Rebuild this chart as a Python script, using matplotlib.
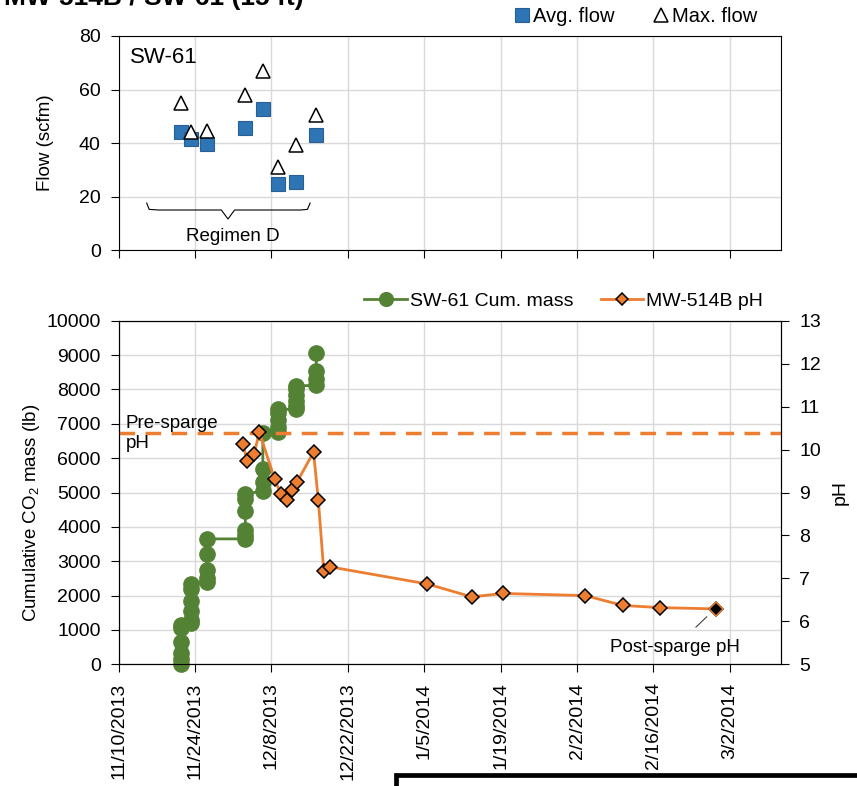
import matplotlib
matplotlib.use("Agg")
import matplotlib.pyplot as plt
import matplotlib.dates as mdates
import pandas as pd
from matplotlib.lines import Line2D
from matplotlib.ticker import FuncFormatter

plt.rcParams["font.family"] = ["Liberation Sans", "DejaVu Sans"]
plt.rcParams["mathtext.fontset"] = "custom"
plt.rcParams["mathtext.rm"] = "Liberation Sans"
plt.rcParams["mathtext.it"] = "Liberation Sans:italic"

# flow measurements (top panel)
flow_dates = pd.to_datetime([
    "2013-11-21 10:00", "2013-11-23 05:00", "2013-11-26 05:00", "2013-12-03 05:00",
    "2013-12-06 10:00", "2013-12-09 05:00", "2013-12-12 10:00", "2013-12-16 05:00",
])
avg_flow = [44, 41.5, 39.5, 45.5, 52.8, 24.8, 25.5, 43.1]
max_flow = [54.8, 44.2, 44.5, 57.9, 66.9, 30.9, 39.3, 50.5]

# cumulative CO2 mass, several readings per sparge day
mass_day = [0, 0, 0, 0, 0, 0,
            1, 1, 1, 1, 1, 1,
            2, 2, 2, 2, 2,
            3, 3, 3, 3, 3, 3,
            4, 4, 4, 4,
            5, 5, 5, 5, 5,
            6, 6, 6, 6, 6, 6,
            7, 7, 7, 7]
cum_mass = [0, 150, 320, 650, 1050, 1150,
            1200, 1300, 1550, 1850, 2200, 2350,
            2400, 2500, 2750, 3200, 3650,
            3650, 3750, 3900, 4450, 4800, 4950,
            5050, 5300, 5680, 6730,
            6750, 6900, 7100, 7300, 7420,
            7420, 7520, 7650, 7850, 8000, 8100,
            8120, 8300, 8550, 9050]

# MW-514B pH
ph_dates = pd.to_datetime([
    "2013-12-02 17:00", "2013-12-03 14:00", "2013-12-04 19:00", "2013-12-05 19:00",
    "2013-12-08 14:00", "2013-12-09 17:00", "2013-12-10 19:00", "2013-12-11 17:00",
    "2013-12-12 17:00", "2013-12-15 17:00", "2013-12-16 14:00", "2013-12-17 14:00",
    "2013-12-18 17:00", "2014-01-05 14:00", "2014-01-13 17:00", "2014-01-19 10:00",
    "2014-02-03 12:00", "2014-02-10 10:00", "2014-02-17 07:00", "2014-02-27 10:00",
])
ph_vals = [10.13, 9.74, 9.90, 10.40, 9.31, 8.97, 8.83, 9.06, 9.25, 9.94,
           8.83, 7.17, 7.27, 6.87, 6.57, 6.65, 6.60, 6.37, 6.32, 6.29]
pre_sparge_ph = 10.38

tick_dates = pd.date_range("2013-11-10", "2014-03-02", freq="14D")
x_min = pd.Timestamp("2013-11-10")
x_max = pd.Timestamp("2014-03-11 09:00")

blue = "#2e75b6"
green = "#548235"
orange = "#ed7d31"
grid_c = "#d9d9d9"
fs = 13.5
tfs = 14


def date_label(x, pos):
    d = mdates.num2date(x)
    return f"{d.month}/{d.day}/{d.year}"


fig = plt.figure(figsize=(8.57, 7.86), dpi=100)
ax1 = fig.add_axes([0.1385, 0.6819, 0.7728, 0.2723])
ax2 = fig.add_axes([0.1385, 0.1548, 0.7728, 0.4372])

# --- top panel: flow ---
ax1.plot(flow_dates, avg_flow, "s", ms=10.5, mfc=blue, mec="#2a5f94", mew=0.8,
         label="Avg. flow", zorder=3)
ax1.plot(flow_dates, max_flow, "^", ms=10.5, mfc="white", mec="black", mew=1.1,
         label="Max. flow", zorder=3)
ax1.set_xlim(x_min, x_max)
ax1.set_ylim(0, 80)
ax1.set_yticks(range(0, 81, 20))
ax1.set_xticks(tick_dates)
ax1.set_xticklabels([])
ax1.grid(True, color=grid_c, lw=1)
ax1.set_axisbelow(True)
ax1.tick_params(labelsize=tfs, direction="out", length=6, pad=7)
ax1.set_ylabel("Flow (scfm)", fontsize=fs)
ax1.yaxis.set_label_coords(-0.0974, 0.5)
ax1.text(0.017, 0.90, "SW-61", transform=ax1.transAxes, fontsize=16, va="center")
ax1.legend(loc="center right", bbox_to_anchor=(0.9638, 1.089), ncol=2, frameon=False,
           fontsize=14.5, handlelength=0.8, handletextpad=0.15, columnspacing=1.9,
           borderaxespad=0, borderpad=0)

# bracket for Regimen D
bx = [0.0423, 0.046, 0.06, 0.155, 0.165, 0.175, 0.275, 0.285, 0.289]
by = [0.2196, 0.19, 0.187, 0.187, 0.145, 0.187, 0.187, 0.19, 0.2196]
ax1.plot(bx, by, color="black", lw=0.8, transform=ax1.transAxes, clip_on=False)
ax1.text(0.173, 0.065, "Regimen D", transform=ax1.transAxes, fontsize=fs,
         ha="center", va="center")
for s in ax1.spines.values():
    s.set_color("black")

# --- bottom panel: cumulative mass + pH ---
mass_dates = [flow_dates[i] for i in mass_day]
ax2.plot(mass_dates, cum_mass, "-o", color=green, lw=2, ms=11, mec=green,
         label="SW-61 Cum. mass", clip_on=False, zorder=3)
ax2.set_xlim(x_min, x_max)
ax2.set_ylim(0, 10000)
ax2.set_yticks(range(0, 10001, 1000))
ax2.set_xticks(tick_dates)
ax2.xaxis.set_major_formatter(FuncFormatter(date_label))
ax2.tick_params(axis="x", labelrotation=90)
ax2.grid(True, color=grid_c, lw=1)
ax2.set_axisbelow(True)
ax2.tick_params(labelsize=tfs, direction="out", length=6, pad=7)
ax2.set_ylabel("Cumulative CO$_2$ mass (lb)", fontsize=fs)
ax2.yaxis.set_label_coords(-0.116, 0.44)

ax3 = ax2.twinx()
ax3.plot(ph_dates, ph_vals, "-D", color=orange, lw=2, ms=7.2, mfc=orange,
         mec="black", mew=1.1, label="MW-514B pH", zorder=4)
ax3.plot(ph_dates[-1:], ph_vals[-1:], "D", ms=7.2, mfc="black", mec=orange,
         mew=1.1, zorder=5)
ax3.axhline(pre_sparge_ph, color=orange, lw=2.5, dashes=(4.5, 3))
ax3.set_ylim(5, 13)
ax3.set_yticks(range(5, 14))
ax3.tick_params(labelsize=tfs, direction="out", length=6, pad=7)
ax3.set_ylabel("pH", fontsize=14)
ax3.yaxis.set_label_coords(1.077, 0.5)
ax3.text(0.01, pre_sparge_ph, "Pre-sparge\npH", transform=ax3.get_yaxis_transform(),
         fontsize=fs, va="center", ha="left", linespacing=1.25)
ax3.annotate("Post-sparge pH", xy=(0.888, 0.1385), xycoords="axes fraction",
             xytext=(0.84, 0.05), textcoords="axes fraction", fontsize=fs,
             ha="center", va="center",
             arrowprops=dict(arrowstyle="-", color="#404040", lw=0.8,
                             shrinkA=9, shrinkB=0))

h1, l1 = ax2.get_legend_handles_labels()
h3, l3 = ax3.get_legend_handles_labels()
ax3.legend(h1 + h3, l1 + l3, loc="center right", bbox_to_anchor=(0.973, 1.057),
           ncol=2, frameon=False, fontsize=14, handlelength=2.2, handletextpad=0.15,
           columnspacing=1.4, borderaxespad=0, borderpad=0, markerscale=0.9)

for a in (ax2, ax3):
    for s in a.spines.values():
        s.set_color("black")

# title, clipped at the top like the source image
fig.text(0.005, 0.9936, "MW-514B / SW-61 (15 ft)", fontsize=19, fontweight="bold",
         ha="left", va="baseline")

# frame edge of the next box visible at bottom right
fig.add_artist(Line2D([0.4615, 0.4615, 1.01], [-0.01, 0.0136, 0.0136],
                      transform=fig.transFigure, color="black", lw=3.4,
                      solid_joinstyle="miter"))

fig.savefig("out.png", dpi=100)
